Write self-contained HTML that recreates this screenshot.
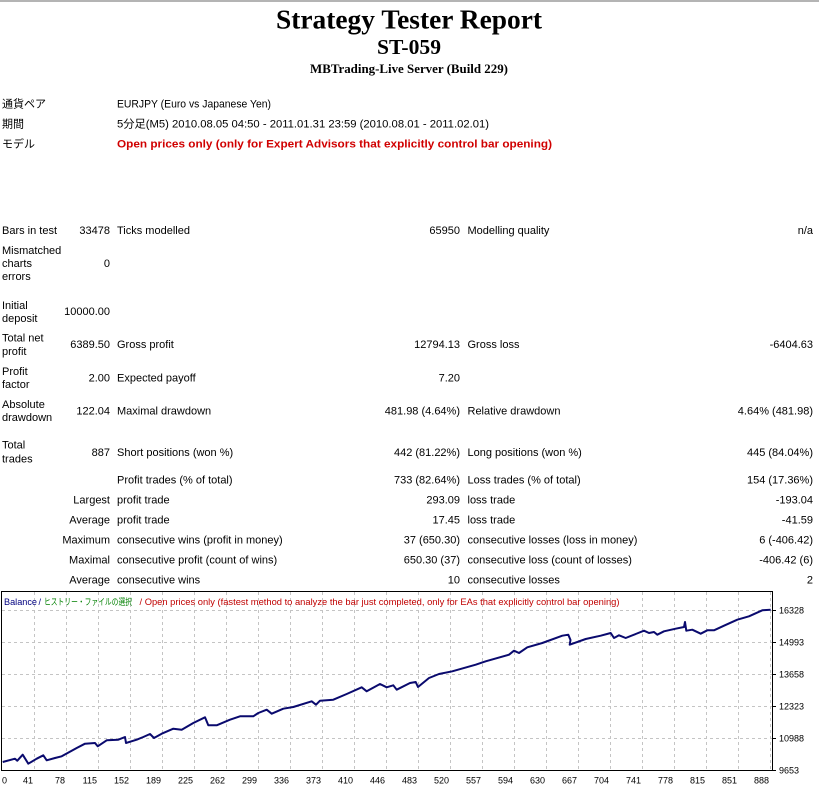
<!DOCTYPE html>
<html>
<head>
<meta charset="utf-8">
<style>
html,body{margin:0;padding:0;background:#fff;}
svg{display:block;}
.t{font-family:"Liberation Sans","Noto Sans CJK JP",sans-serif;font-size:11px;fill:#000;}
.j{font-family:"Liberation Sans","Noto Sans CJK JP",sans-serif;font-size:11px;fill:#000;}
.s{font-family:"Liberation Serif","Noto Serif CJK SC",serif;font-weight:bold;fill:#000;}
.c{font-family:"Liberation Sans","Noto Sans CJK JP",sans-serif;font-size:9px;fill:#000;}
</style>
</head>
<body>
<svg width="819" height="788" viewBox="0 0 819 788" xmlns="http://www.w3.org/2000/svg">
<rect x="0" y="0" width="819" height="788" fill="#fff"/>
<line x1="0" y1="1" x2="819" y2="1" stroke="#b4b4b4" stroke-width="2"/>

<!-- Titles -->
<text class="s" x="276" y="28.5" font-size="27" textLength="266" lengthAdjust="spacingAndGlyphs">Strategy Tester Report</text>
<text class="s" x="377" y="54" font-size="21" textLength="64" lengthAdjust="spacingAndGlyphs">ST-059</text>
<text class="s" x="310" y="73" font-size="13" textLength="198" lengthAdjust="spacingAndGlyphs">MBTrading-Live Server (Build 229)</text>

<!-- Info rows -->
<text class="j" x="2" y="107.5">通貨ペア</text>
<text class="t" x="117" y="107.5" textLength="154" lengthAdjust="spacingAndGlyphs">EURJPY (Euro vs Japanese Yen)</text>
<text class="j" x="2" y="127.5">期間</text>
<text class="t" x="117" y="127.5" textLength="372" lengthAdjust="spacingAndGlyphs">5分足(M5) 2010.08.05 04:50 - 2011.01.31 23:59 (2010.08.01 - 2011.02.01)</text>
<text class="j" x="2" y="147.5">モデル</text>
<text class="t" x="117" y="147.5" font-weight="bold" style="fill:#d00000" textLength="435" lengthAdjust="spacingAndGlyphs">Open prices only (only for Expert Advisors that explicitly control bar opening)</text>

<!-- Table -->
<g class="t">
<text x="2" y="234">Bars in test</text>
<text x="110" y="234" text-anchor="end">33478</text>
<text x="117" y="234">Ticks modelled</text>
<text x="460" y="234" text-anchor="end">65950</text>
<text x="467.5" y="234">Modelling quality</text>
<text x="813" y="234" text-anchor="end">n/a</text>

<text x="2" y="254">Mismatched</text>
<text x="2" y="267">charts</text>
<text x="2" y="280">errors</text>
<text x="110" y="267" text-anchor="end">0</text>

<text x="2" y="309">Initial</text>
<text x="2" y="322">deposit</text>
<text x="110" y="315" text-anchor="end">10000.00</text>

<text x="2" y="341.5">Total net</text>
<text x="2" y="355">profit</text>
<text x="110" y="348" text-anchor="end">6389.50</text>
<text x="117" y="348">Gross profit</text>
<text x="460" y="348" text-anchor="end">12794.13</text>
<text x="467.5" y="348">Gross loss</text>
<text x="813" y="348" text-anchor="end">-6404.63</text>

<text x="2" y="375">Profit</text>
<text x="2" y="388">factor</text>
<text x="110" y="381.5" text-anchor="end">2.00</text>
<text x="117" y="381.5">Expected payoff</text>
<text x="460" y="381.5" text-anchor="end">7.20</text>

<text x="2" y="408">Absolute</text>
<text x="2" y="421">drawdown</text>
<text x="110" y="414.5" text-anchor="end">122.04</text>
<text x="117" y="414.5">Maximal drawdown</text>
<text x="460" y="414.5" text-anchor="end">481.98 (4.64%)</text>
<text x="467.5" y="414.5">Relative drawdown</text>
<text x="813" y="414.5" text-anchor="end">4.64% (481.98)</text>

<text x="2" y="448.5">Total</text>
<text x="2" y="462.5">trades</text>
<text x="110" y="456" text-anchor="end">887</text>
<text x="117" y="456">Short positions (won %)</text>
<text x="460" y="456" text-anchor="end">442 (81.22%)</text>
<text x="467.5" y="456">Long positions (won %)</text>
<text x="813" y="456" text-anchor="end">445 (84.04%)</text>

<text x="117" y="483.3">Profit trades (% of total)</text>
<text x="460" y="483.3" text-anchor="end">733 (82.64%)</text>
<text x="467.5" y="483.3">Loss trades (% of total)</text>
<text x="813" y="483.3" text-anchor="end">154 (17.36%)</text>

<text x="110" y="503.3" text-anchor="end">Largest</text>
<text x="117" y="503.3">profit trade</text>
<text x="460" y="503.3" text-anchor="end">293.09</text>
<text x="467.5" y="503.3">loss trade</text>
<text x="813" y="503.3" text-anchor="end">-193.04</text>

<text x="110" y="523.3" text-anchor="end">Average</text>
<text x="117" y="523.3">profit trade</text>
<text x="460" y="523.3" text-anchor="end">17.45</text>
<text x="467.5" y="523.3">loss trade</text>
<text x="813" y="523.3" text-anchor="end">-41.59</text>

<text x="110" y="543.3" text-anchor="end">Maximum</text>
<text x="117" y="543.3">consecutive wins (profit in money)</text>
<text x="460" y="543.3" text-anchor="end">37 (650.30)</text>
<text x="467.5" y="543.3">consecutive losses (loss in money)</text>
<text x="813" y="543.3" text-anchor="end">6 (-406.42)</text>

<text x="110" y="563.3" text-anchor="end">Maximal</text>
<text x="117" y="563.3">consecutive profit (count of wins)</text>
<text x="460" y="563.3" text-anchor="end">650.30 (37)</text>
<text x="467.5" y="563.3">consecutive loss (count of losses)</text>
<text x="813" y="563.3" text-anchor="end">-406.42 (6)</text>

<text x="110" y="583.3" text-anchor="end">Average</text>
<text x="117" y="583.3">consecutive wins</text>
<text x="460" y="583.3" text-anchor="end">10</text>
<text x="467.5" y="583.3">consecutive losses</text>
<text x="813" y="583.3" text-anchor="end">2</text>
</g>

<!-- Chart grid -->
<g stroke="#c4c4c4" stroke-width="1" stroke-dasharray="3,3" fill="none">
<line x1="34.5" y1="592" x2="34.5" y2="770"/>
<line x1="66.5" y1="592" x2="66.5" y2="770"/>
<line x1="98.5" y1="592" x2="98.5" y2="770"/>
<line x1="130.5" y1="592" x2="130.5" y2="770"/>
<line x1="162.5" y1="592" x2="162.5" y2="770"/>
<line x1="194.5" y1="592" x2="194.5" y2="770"/>
<line x1="226.5" y1="592" x2="226.5" y2="770"/>
<line x1="258.5" y1="592" x2="258.5" y2="770"/>
<line x1="290.5" y1="592" x2="290.5" y2="770"/>
<line x1="322.5" y1="592" x2="322.5" y2="770"/>
<line x1="354.5" y1="592" x2="354.5" y2="770"/>
<line x1="386.5" y1="592" x2="386.5" y2="770"/>
<line x1="418.5" y1="592" x2="418.5" y2="770"/>
<line x1="450.5" y1="592" x2="450.5" y2="770"/>
<line x1="482.5" y1="592" x2="482.5" y2="770"/>
<line x1="514.5" y1="592" x2="514.5" y2="770"/>
<line x1="546.5" y1="592" x2="546.5" y2="770"/>
<line x1="578.5" y1="592" x2="578.5" y2="770"/>
<line x1="610.5" y1="592" x2="610.5" y2="770"/>
<line x1="642.5" y1="592" x2="642.5" y2="770"/>
<line x1="674.5" y1="592" x2="674.5" y2="770"/>
<line x1="706.5" y1="592" x2="706.5" y2="770"/>
<line x1="738.5" y1="592" x2="738.5" y2="770"/>
<line x1="770.5" y1="592" x2="770.5" y2="770"/>
<line x1="2" y1="610.5" x2="772" y2="610.5"/>
<line x1="2" y1="642.5" x2="772" y2="642.5"/>
<line x1="2" y1="674.5" x2="772" y2="674.5"/>
<line x1="2" y1="706.5" x2="772" y2="706.5"/>
<line x1="2" y1="738.5" x2="772" y2="738.5"/>
</g>

<!-- Chart frame -->
<rect x="1.5" y="591.5" width="771" height="179" fill="none" stroke="#000" stroke-width="1"/>

<!-- Right ticks -->
<g stroke="#000" stroke-width="1">
<line x1="773" y1="610.5" x2="776" y2="610.5"/>
<line x1="773" y1="642.5" x2="776" y2="642.5"/>
<line x1="773" y1="674.5" x2="776" y2="674.5"/>
<line x1="773" y1="706.5" x2="776" y2="706.5"/>
<line x1="773" y1="738.5" x2="776" y2="738.5"/>
<line x1="773" y1="770.5" x2="776" y2="770.5"/>
</g>

<!-- Legend -->
<text class="c" x="4" y="605" style="fill:#00007f" textLength="33" lengthAdjust="spacingAndGlyphs">Balance</text>
<text class="c" x="38.5" y="605" style="fill:#00007f">/</text>
<text class="c" x="44" y="605" font-size="8" style="fill:#008000" textLength="88" lengthAdjust="spacingAndGlyphs">ヒストリー・ファイルの選択</text>
<text class="c" x="139.5" y="605" style="fill:#c00000" textLength="480" lengthAdjust="spacingAndGlyphs">/ Open prices only (fastest method to analyze the bar just completed, only for EAs that explicitly control bar opening)</text>

<!-- Balance line -->
<polyline fill="none" stroke="#0a0a6e" stroke-width="2" stroke-linejoin="round" points="2.7,762 15,758.7 17.3,760.7 22.7,754.7 28.3,763.7 36.7,758.7 43.3,755.3 46.7,760.3 55,758 61.7,756.3 76.7,748 85,743.7 95,743 97.7,746.3 106.7,740.3 118.3,739.7 125,737 126,743 136.7,739.7 143.3,737 150,734 154,738 161.7,733.7 173.3,728.7 181.7,729.7 193.3,723 205,717.3 208.3,725.3 216.7,725.3 230,719.7 240,716.3 253.3,716.3 258.3,713 266.7,709.7 271.7,713.7 283.3,708.7 293.3,707 311.7,701.3 316,704.7 320,700.7 333.3,699.7 346.7,694 361.7,687.3 366.7,691.3 380,684 386.7,687.3 393.3,685.3 396.7,689.7 410,683 415.7,682 418,687 429,678 439,674 452.3,671.3 475.7,664.7 485.7,661.3 509,654.7 514,650.7 519,653 527.3,647.3 542.3,643 562.3,635.7 568.3,634.7 570.5,640 569.7,644.7 585.7,639 600.7,635.7 610.7,633 614,638 619,635.3 625.7,638 635.7,634 644,630.7 649,633 654,632 657.3,634.7 664,631.3 675.7,628.7 684,627 685,622 686.3,630.7 692.3,629.7 700.7,633.7 707.3,630.3 714,630.3 724,625.7 737.3,619.7 749,616.3 762.3,610.3 770.7,609.7"/>

<!-- Price labels -->
<g class="c">
<text x="779" y="613.5">16328</text>
<text x="779" y="645.5">14993</text>
<text x="779" y="677.5">13658</text>
<text x="779" y="709.5">12323</text>
<text x="779" y="741.5">10988</text>
<text x="779" y="773.5">9653</text>
</g>

<!-- X labels -->
<g class="c" text-anchor="end">
<text x="2" y="783.5" text-anchor="start">0</text>
<text x="33" y="783.5">41</text>
<text x="65" y="783.5">78</text>
<text x="97" y="783.5">115</text>
<text x="129" y="783.5">152</text>
<text x="161" y="783.5">189</text>
<text x="193" y="783.5">225</text>
<text x="225" y="783.5">262</text>
<text x="257" y="783.5">299</text>
<text x="289" y="783.5">336</text>
<text x="321" y="783.5">373</text>
<text x="353" y="783.5">410</text>
<text x="385" y="783.5">446</text>
<text x="417" y="783.5">483</text>
<text x="449" y="783.5">520</text>
<text x="481" y="783.5">557</text>
<text x="513" y="783.5">594</text>
<text x="545" y="783.5">630</text>
<text x="577" y="783.5">667</text>
<text x="609" y="783.5">704</text>
<text x="641" y="783.5">741</text>
<text x="673" y="783.5">778</text>
<text x="705" y="783.5">815</text>
<text x="737" y="783.5">851</text>
<text x="769" y="783.5">888</text>
</g>
</svg>
</body>
</html>
